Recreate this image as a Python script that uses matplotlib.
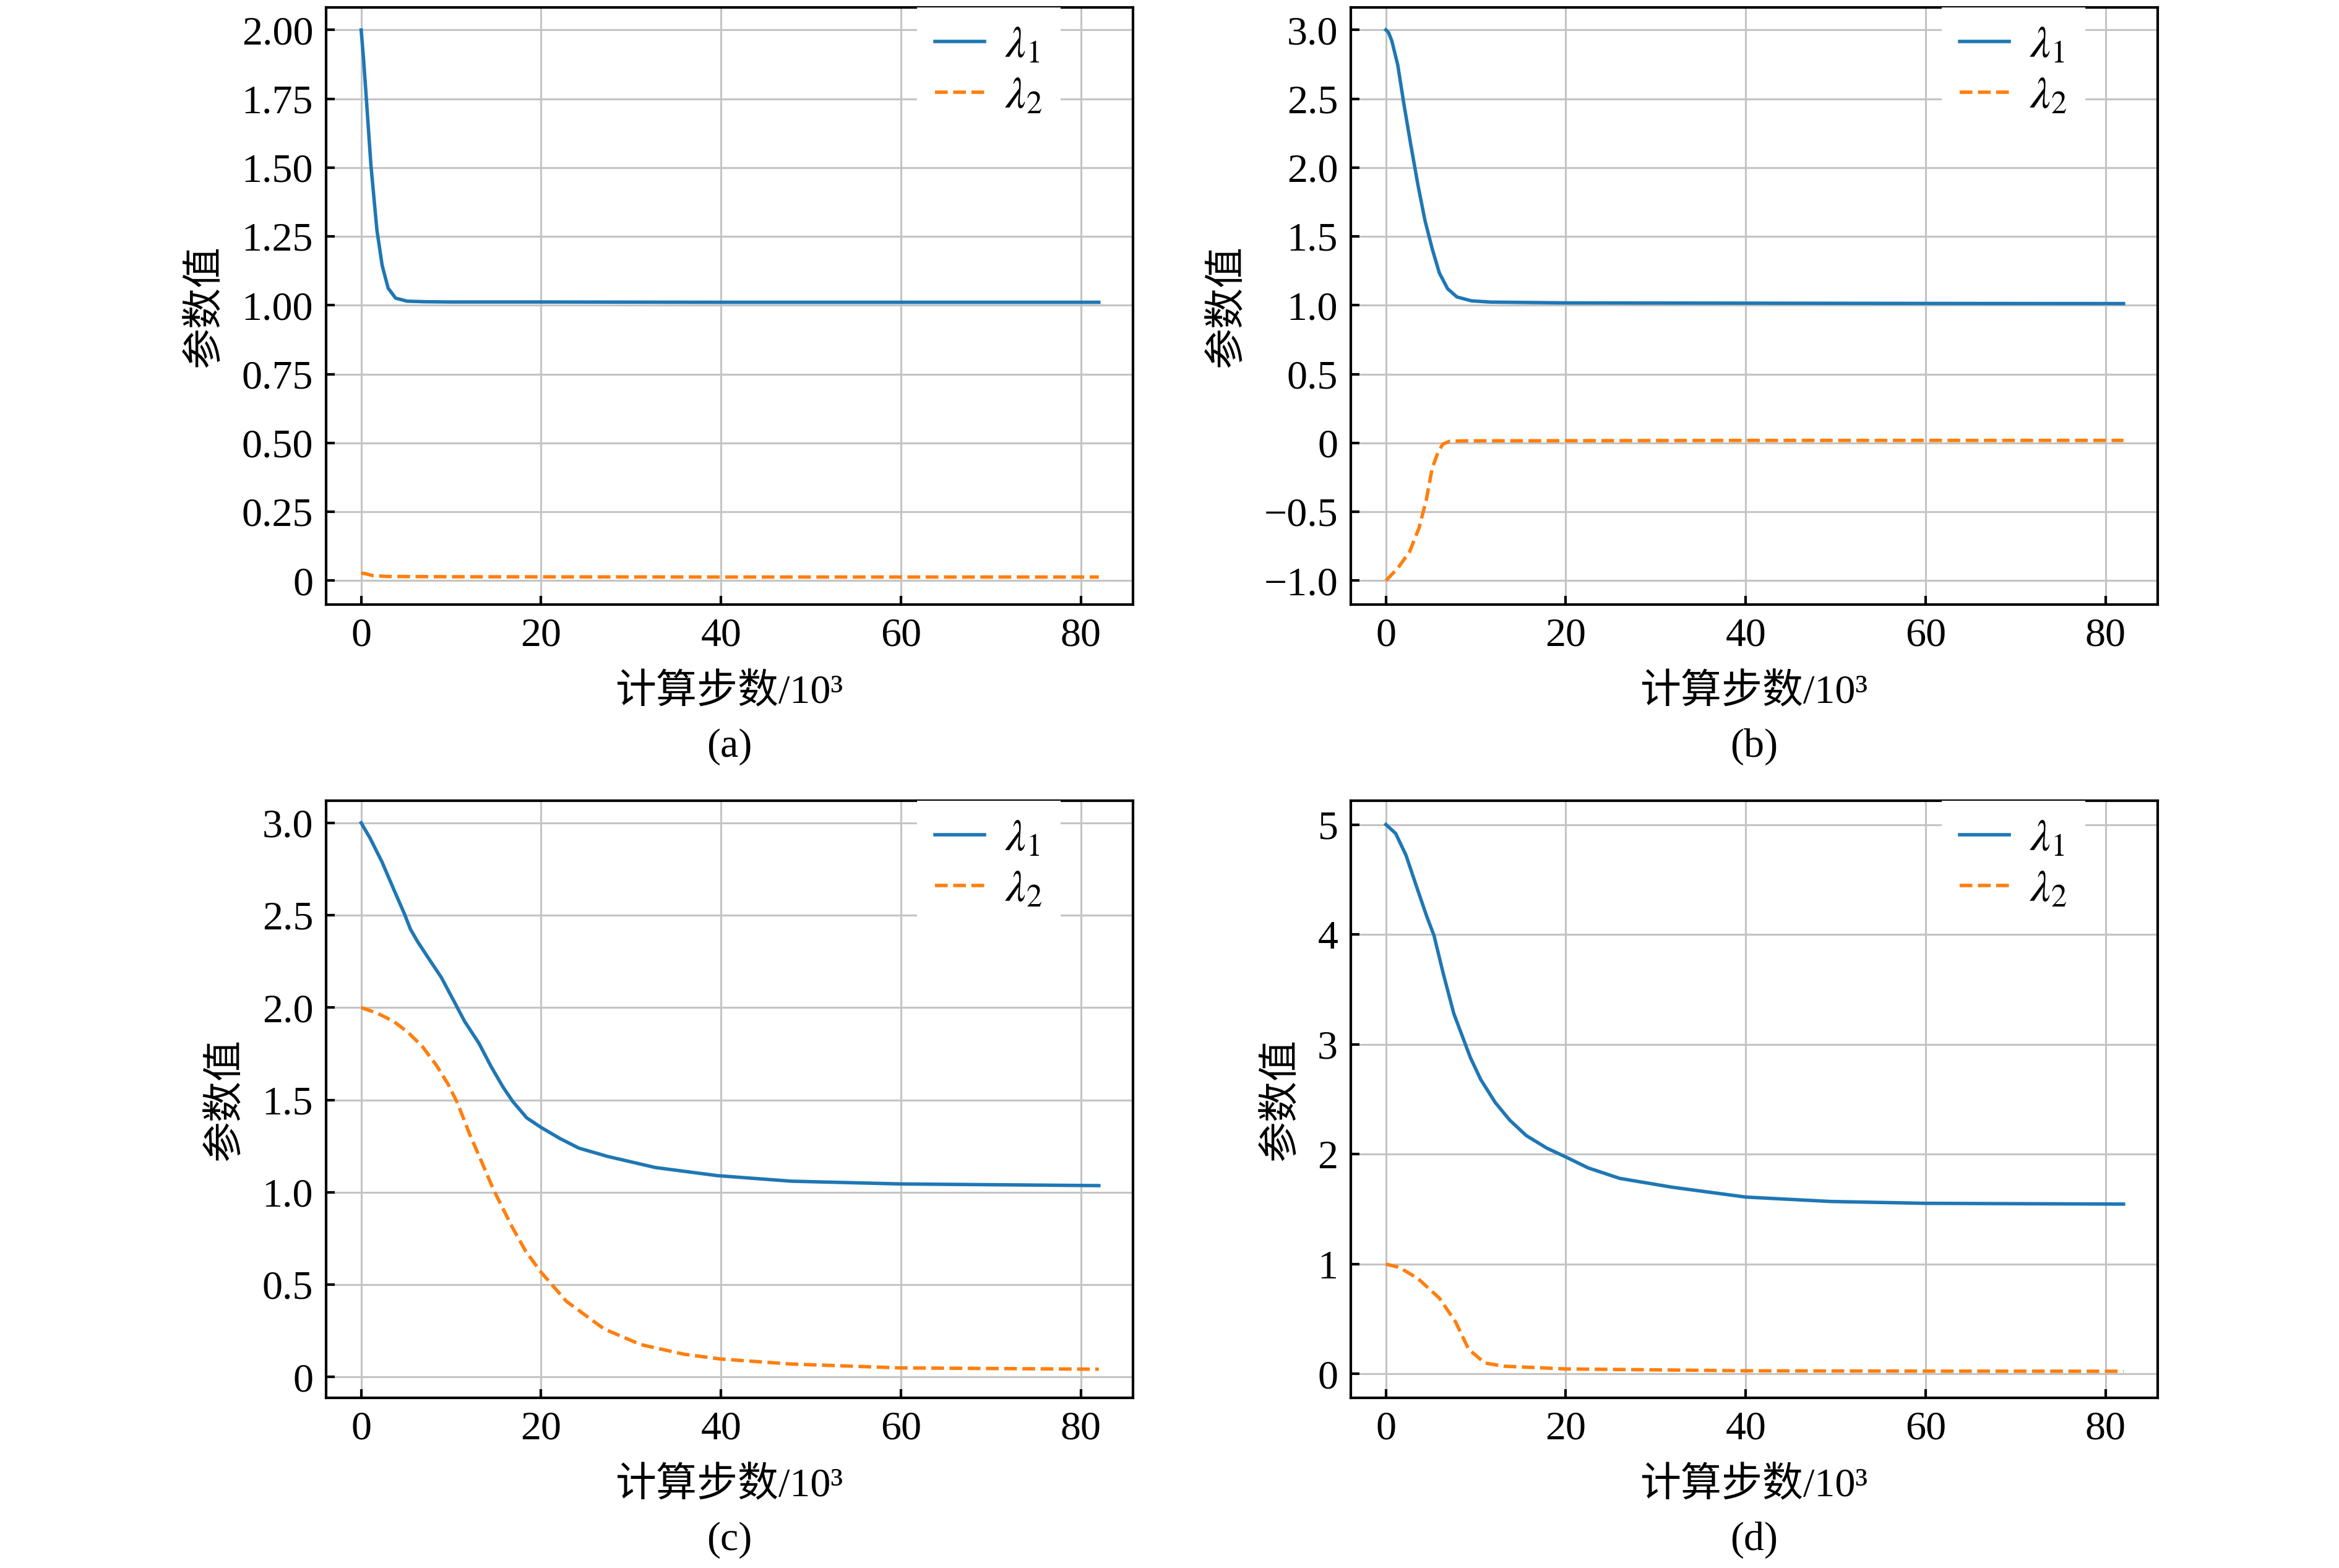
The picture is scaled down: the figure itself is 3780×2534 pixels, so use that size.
import matplotlib
matplotlib.use("Agg")
import matplotlib.pyplot as plt

plt.rcParams['font.family'] = ['Liberation Serif', 'Noto Sans CJK SC', 'DejaVu Sans']
plt.rcParams['mathtext.fontset'] = 'stix'
plt.rcParams['axes.unicode_minus'] = True

# ---------------- data ----------------
# panel (a)
a_x1 = [0, 0.25, 0.5, 1.08, 1.75, 2.33, 3.0, 3.83, 5.1, 7, 10, 20, 40, 60, 82]
a_y1 = [2.0, 1.90, 1.786, 1.51, 1.273, 1.145, 1.062, 1.026, 1.015, 1.013, 1.012, 1.012, 1.011, 1.011, 1.011]
a_x2 = [0, 0.5, 1.3, 3, 10, 40, 82]
a_y2 = [0.027, 0.025, 0.018, 0.015, 0.014, 0.013, 0.013]

# panel (b)
b_x1 = [0, 0.3, 0.66, 1.32, 1.98, 2.77, 3.56, 4.35, 5.15, 5.94, 6.86, 7.9, 9.5, 11.6, 20, 40, 60, 82]
b_y1 = [3.0, 2.98, 2.92, 2.745, 2.47, 2.165, 1.875, 1.614, 1.41, 1.235, 1.12, 1.06, 1.032, 1.023, 1.017, 1.015, 1.013, 1.012]
b_x2 = [0, 1.32, 2.64, 3.69, 4.49, 5.15, 5.8, 6.33, 7.1, 9, 20, 40, 60, 82]
b_y2 = [-1.0, -0.91, -0.79, -0.617, -0.414, -0.183, -0.067, -0.009, 0.012, 0.015, 0.016, 0.018, 0.018, 0.018]

# panel (c)
c_x1 = [0, 0.98, 2.3, 3.62, 4.81, 5.47, 6.26, 7.58, 8.9, 10.2, 11.5, 13.1, 14.45, 15.8, 16.83,
        18.4, 20, 22.1, 24.2, 27.4, 32.7, 39.6, 47.8, 60, 82]
c_y1 = [3.0, 2.918, 2.79, 2.64, 2.507, 2.425, 2.358, 2.26, 2.164, 2.045, 1.925, 1.806, 1.68, 1.567, 1.493,
        1.403, 1.351, 1.291, 1.239, 1.194, 1.134, 1.09, 1.06, 1.045, 1.036]
c_x2 = [0, 1.77, 3.62, 5.2, 6.79, 8.37, 9.7, 10.75, 12.07, 13.4, 14.7, 16.8, 18.3, 20, 22.8,
        27, 31.1, 35.9, 40, 47.8, 60, 82]
c_y2 = [2.0, 1.97, 1.925, 1.866, 1.79, 1.687, 1.582, 1.478, 1.313, 1.164, 1.015, 0.81, 0.68, 0.567, 0.41,
        0.26, 0.175, 0.123, 0.097, 0.07, 0.049, 0.042]

# panel (d)
d_x1 = [0, 1.08, 2.24, 3.39, 4.54, 5.35, 6.39, 7.55, 8.7, 9.39, 10.54, 12.16, 13.77, 15.6, 17.9,
        20, 22.5, 26, 31.8, 40, 49.4, 60, 82]
d_y1 = [5.0, 4.92, 4.72, 4.44, 4.165, 3.99, 3.64, 3.28, 3.03, 2.88, 2.68, 2.47, 2.31, 2.17, 2.055,
        1.975, 1.875, 1.78, 1.70, 1.61, 1.57, 1.553, 1.546]
d_x2 = [0, 1.5, 3.57, 5.95, 7.74, 9.2, 11.0, 13.1, 20, 40, 60, 82]
d_y2 = [1.0, 0.97, 0.868, 0.69, 0.475, 0.225, 0.10, 0.071, 0.046, 0.029, 0.026, 0.025]

x_ticks = [0, 20, 40, 60, 80]
x_ticklabels = ['0', '20', '40', '60', '80']

a_yticks = [0, 0.25, 0.5, 0.75, 1.0, 1.25, 1.5, 1.75, 2.0]
a_yticklabels = ['0', '0.25', '0.50', '0.75', '1.00', '1.25', '1.50', '1.75', '2.00']
b_yticks = [-1.0, -0.5, 0, 0.5, 1.0, 1.5, 2.0, 2.5, 3.0]
b_yticklabels = ['\u22121.0', '\u22120.5', '0', '0.5', '1.0', '1.5', '2.0', '2.5', '3.0']
c_yticks = [0, 0.5, 1.0, 1.5, 2.0, 2.5, 3.0]
c_yticklabels = ['0', '0.5', '1.0', '1.5', '2.0', '2.5', '3.0']
d_yticks = [0, 1, 2, 3, 4, 5]
d_yticklabels = ['0', '1', '2', '3', '4', '5']

labels = [r'$\lambda_1$', r'$\lambda_2$']
xlabel = '计算步数/10³'
ylabel = '参数值'
panel_tags = ['(a)', '(b)', '(c)', '(d)']

# ---------------- figure ----------------
W, H = 3780, 2534
dpi = 250
fig = plt.figure(figsize=(W / dpi, H / dpi), dpi=dpi)

col_left = [527 / W, 2183 / W]
ax_w = 1304 / W
row_bottom = [1 - 977 / H, 1 - 2259 / H]
ax_h = 965 / H

FS = 19
blue = '#1f77b4'
orange = '#ff7f0e'

panels = [
    (a_x1, a_y1, a_x2, a_y2, a_yticks, a_yticklabels, (-0.087, 2.082)),
    (b_x1, b_y1, b_x2, b_y2, b_yticks, b_yticklabels, (-1.174, 3.163)),
    (c_x1, c_y1, c_x2, c_y2, c_yticks, c_yticklabels, (-0.113, 3.12)),
    (d_x1, d_y1, d_x2, d_y2, d_yticks, d_yticklabels, (-0.217, 5.217)),
]

for i, (x1, y1, x2, y2, yt, ytl, ylim) in enumerate(panels):
    r, c = divmod(i, 2)
    ax = fig.add_axes([col_left[c], row_bottom[r], ax_w, ax_h])
    ax.plot(x1, y1, color=blue, lw=1.6, ls='-', label=labels[0], zorder=3)
    ax.plot(x2, y2, color=orange, lw=1.6, ls='--', label=labels[1], zorder=3)
    ax.set_xlim(-3.9, 85.8)
    ax.set_ylim(*ylim)
    ax.set_xticks(x_ticks)
    ax.set_xticklabels(x_ticklabels)
    ax.set_yticks(yt)
    ax.set_yticklabels(ytl)
    ax.grid(True, color='#c4c4c4', lw=0.9, zorder=0)
    ax.set_axisbelow(True)
    ax.tick_params(direction='in', length=4, width=1.2, labelsize=FS, pad=6,
                   top=False, right=False)
    for sp in ax.spines.values():
        sp.set_linewidth(1.2)
    ax.set_ylabel(ylabel, fontsize=FS, labelpad=8)
    ax.set_xlabel(xlabel, fontsize=FS)
    ax.xaxis.set_label_coords(0.5, -143 / 965)
    ax.xaxis.label.set_va('center')
    ax.text(0.5, -230 / 965, panel_tags[i], transform=ax.transAxes,
            ha='center', va='center', fontsize=FS)
    ax.legend(loc='upper right', bbox_to_anchor=(0.91, 1.0), borderaxespad=0,
              frameon=True, fancybox=False, framealpha=1, facecolor='white',
              edgecolor='none', fontsize=21, handlelength=1.1,
              handletextpad=0.45, borderpad=0.4, labelspacing=0.2)

fig.savefig('out.png', dpi=dpi)
